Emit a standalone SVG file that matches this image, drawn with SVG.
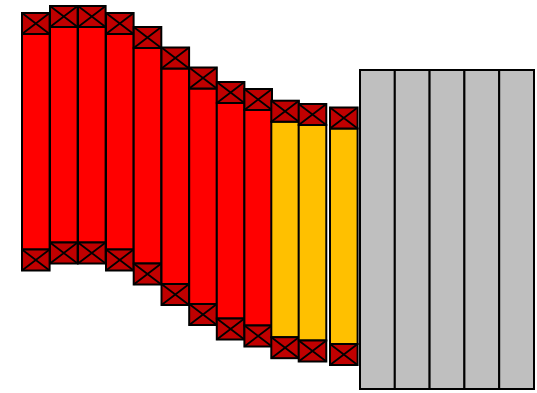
<svg xmlns="http://www.w3.org/2000/svg" width="537" height="393" viewBox="0 0 537 393">
<style>
.body{fill:#ff0000;stroke:#000;stroke-width:2}
.yel{fill:#ffc000;stroke:#000;stroke-width:2}
.cap{fill:#c00000;stroke:#000;stroke-width:2}
.x{stroke:#000;stroke-width:1.8;fill:none}
.gray{fill:#bfbfbf;stroke:#000;stroke-width:2}
</style>
<defs>
<g id="capx">
<rect class="cap" x="0" y="0" width="27.6" height="21"/>
<path class="x" d="M0,0 L27.6,21 M27.6,0 L0,21"/>
</g>
</defs>
<g id="col1" transform="translate(22,13)"><rect class="body" x="0" y="21" width="27.6" height="215.5"/><use href="#capx"/><use href="#capx" y="236.5"/></g>
<g id="col2" transform="translate(50,6)"><rect class="body" x="0" y="21" width="27.6" height="215.5"/><use href="#capx"/><use href="#capx" y="236.5"/></g>
<g id="col3" transform="translate(78,6)"><rect class="body" x="0" y="21" width="27.6" height="215.5"/><use href="#capx"/><use href="#capx" y="236.5"/></g>
<g id="col4" transform="translate(106,13)"><rect class="body" x="0" y="21" width="27.6" height="215.5"/><use href="#capx"/><use href="#capx" y="236.5"/></g>
<g id="col5" transform="translate(133.7,27)"><rect class="body" x="0" y="21" width="27.6" height="215.5"/><use href="#capx"/><use href="#capx" y="236.5"/></g>
<g id="col6" transform="translate(161.5,47.5)"><rect class="body" x="0" y="21" width="27.6" height="215.5"/><use href="#capx"/><use href="#capx" y="236.5"/></g>
<g id="col7" transform="translate(189.2,67.5)"><rect class="body" x="0" y="21" width="27.6" height="215.5"/><use href="#capx"/><use href="#capx" y="236.5"/></g>
<g id="col8" transform="translate(216.8,82)"><rect class="body" x="0" y="21" width="27.6" height="215.5"/><use href="#capx"/><use href="#capx" y="236.5"/></g>
<g id="col9" transform="translate(244.4,89)"><rect class="body" x="0" y="21" width="27.6" height="215.5"/><use href="#capx"/><use href="#capx" y="236.5"/></g>
<g id="col10" transform="translate(271.3,100.7)"><rect class="yel" x="0" y="21" width="27.6" height="215.5"/><use href="#capx"/><use href="#capx" y="236.5"/></g>
<g id="col11" transform="translate(298.7,104)"><rect class="yel" x="0" y="21" width="27.6" height="215.5"/><use href="#capx"/><use href="#capx" y="236.5"/></g>
<g id="col12" transform="translate(330,107.5)"><rect class="yel" x="0" y="21" width="27.6" height="215.5"/><use href="#capx"/><use href="#capx" y="236.5"/></g>
<g id="block">
<rect class="gray" x="360" y="70" width="34.8" height="319"/>
<rect class="gray" x="394.8" y="70" width="34.8" height="319"/>
<rect class="gray" x="429.6" y="70" width="34.8" height="319"/>
<rect class="gray" x="464.4" y="70" width="34.8" height="319"/>
<rect class="gray" x="499.2" y="70" width="34.8" height="319"/>
</g>
<g id="connectors"/>
</svg>
